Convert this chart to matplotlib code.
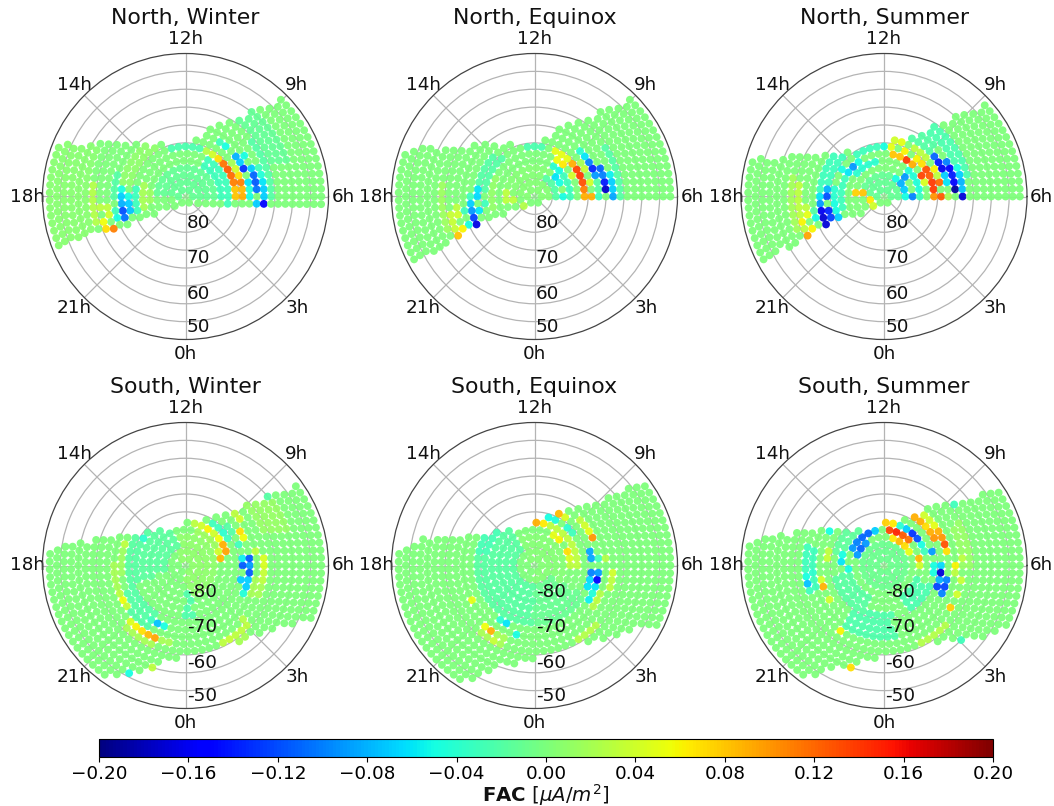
import numpy as np
import matplotlib
matplotlib.use("Agg")
import matplotlib.pyplot as plt
from matplotlib.path import Path

# ---------- grid of the statistics ----------
RING_COLAT = [2, 4, 6, 8, 10, 12, 14, 16, 18, 20, 22, 24, 26, 28, 30, 32, 34, 36, 38]
RING_COUNT = [6, 13, 19, 25, 31, 37, 44, 50, 56, 62, 67, 73, 79, 85, 90, 95, 101, 106, 111]

TITLES = ["North, Winter", "North, Equinox", "North, Summer",
          "South, Winter", "South, Equinox", "South, Summer"]
THETA_LABELS = ["6h", "9h", "12h", "14h", "18h", "21h", "0h", "3h"]
LAT_TICKS_N = ["80", "70", "60", "50"]
LAT_TICKS_S = ["-80", "-70", "-60", "-50"]
CBAR_TICKS = [-0.20, -0.16, -0.12, -0.08, -0.04, 0.00, 0.04, 0.08, 0.12, 0.16, 0.20]

# ---------- sampled areas (degrees from the pole, x to 6h, y to 12h) ----------
COVER_NW_X = [44, 40.0, 4.4, 3, -1.6, -7, -15, -36, -44, -44, -3, 0, 4]
COVER_NW_Y = [-2.4, 32.6, 17.8, 16.2, 15.2, 15.2, 15.2, 15.2, 15.2, -17, -3.5, -2.5, -2.5]
COVER_NE_X = [44, 39, 5.1, 2.8, -3.3, -14.4, -21.9, -33.5, -36.7, -44, -44, -34, -21, -12.6, -2.8, 3.3]
COVER_NE_Y = [-1.6, 33, 18, 16.5, 14.6, 14.6, 14.2, 13.4, 12.2, 11.5, -24, -18.9, -11, -5.8, -3.5, -1.6]
COVER_NS_X = [44, 38, 6.8, 2.6, -1, -7.6, -16, -23, -37, -44, -44, -35.1, -21.6, -14, -2.4, 0, 3.5, 22]
COVER_NS_Y = [-0.7, 30, 17, 16, 14.6, 12.8, 12.3, 12.3, 10.4, 9.5, -23, -18.9, -11.4, -7.2, -3.5, -2.2, -1.6, -0.7]
COVER_SW_X = [44, 38, 31, 19.8, 12.4, 4.9, 0.7, -6.2, -13.7, -20.2, -29.5, -37.9, -44, -44, -20.7, -15, -9, -7.2, -1.1, 4.9, 14.7, 19.8, 24.5, 32.4, 36.6, 44]
COVER_SW_Y = [26, 27, 22.3, 18.1, 15.7, 13.4, 12.5, 10.2, 9.2, 8.3, 6.4, 4.6, 3.5, -40, -31.7, -30.7, -28.9, -27.5, -26.1, -23.7, -21.4, -20, -18.2, -15.4, -14.4, -12]
COVER_SE_X = [44, 38, 31.3, 28.5, 17.3, 7, 1, -6.9, -13.4, -24.6, -31, -37.6, -44, -44, -20.8, -17.1, -11.5, -9.2, -5.5, -0.8, 5.7, 15.4, 21, 25.7, 34, 44]
COVER_SE_Y = [26, 26, 22.7, 22.7, 18.1, 14.8, 12.5, 10.2, 9.2, 8.8, 7.8, 4.6, 3.5, -40, -32.1, -32.1, -30.2, -28.4, -27.5, -26.1, -23.7, -21.9, -20.5, -18.6, -16.8, -14]
COVER_SS_X = [44, 38, 32.9, 29.7, 21.3, 15.7, 12, 8.3, 5, 0.4, -2.9, -10.3, -15, -22.4, -31.3, -37.3, -44, -44, -22.9, -18.7, -13.1, -9.4, -7.5, -2.9, 6.4, 14.8, 21.3, 27.8, 34.3, 44]
COVER_SS_Y = [22, 23, 21.3, 20.9, 18.5, 16.7, 16.2, 13.9, 13.4, 12.5, 10.2, 10.2, 10.2, 9.7, 7.8, 6.4, 5, -40, -30.7, -30.7, -29.3, -28.9, -27, -26.1, -23.3, -21.4, -20.9, -20, -16.8, -13]

# ---------- broad levels: (colat from, colat to, azimuth from, azimuth to, FAC) ----------
ZONES_NW = [(2, 8, 0, 180, -0.012), (10, 12, -10, 60, -0.03), (14, 14, 68, 110, -0.025),
            (24, 24, 0, 40, -0.02), (26, 30, 20, 60, -0.012), (14, 14, 170, 200, -0.03),
            (20, 20, 160, 185, -0.02), (26, 26, 170, 200, 0.025), (12, 12, 160, 195, 0.02),
            (10, 10, 170, 195, 0.015), (28, 38, 150, 210, 0.006), (16, 18, 120, 170, 0.008)]
ZONES_NE = [(2, 8, 0, 180, 0.004), (10, 10, 0, 50, -0.03), (6, 6, 0, 60, -0.02),
            (14, 14, 80, 105, -0.025), (14, 16, 130, 175, -0.02), (18, 18, 0, 15, -0.02),
            (24, 24, 0, 35, -0.02), (24, 24, 190, 203, 0.035), (26, 26, 170, 205, 0.015),
            (12, 12, 150, 200, 0.01)]
ZONES_NS = [(2, 6, 0, 180, -0.012), (10, 10, 100, 150, -0.04), (14, 14, 95, 130, -0.03),
            (10, 10, 20, 50, -0.045), (10, 10, -10, 10, -0.03), (14, 14, 165, 180, -0.04),
            (16, 16, 40, 60, 0.03), (24, 24, 170, 205, 0.03), (26, 26, 165, 205, 0.018),
            (22, 24, 10, 60, -0.025), (18, 20, 45, 70, -0.02), (16, 18, 130, 175, -0.03),
            (8, 8, 60, 70, -0.05), (6, 6, 0, 60, -0.05), (12, 12, 150, 200, -0.03)]
ZONES_SW = [(2, 8, -90, 120, 0.008), (10, 10, 30, 80, 0.015), (6, 14, -160, -80, -0.022),
            (14, 16, 120, 200, -0.018), (6, 12, 110, 200, -0.016), (14, 14, 30, 60, -0.03),
            (16, 16, 30, 50, -0.02), (20, 20, 175, 200, 0.02), (18, 18, 165, 190, 0.015),
            (24, 24, 225, 250, 0.02), (22, 22, 250, 262, 0.02), (24, 24, -65, -40, 0.03),
            (26, 26, -70, -50, 0.02), (20, 22, -25, -10, 0.02), (16, 20, 200, 240, -0.02),
            (24, 30, 20, 60, 0.012)]
ZONES_SE = [(2, 8, -90, 120, 0.004), (12, 12, 0, 70, 0.03), (6, 16, 120, 270, -0.018),
            (14, 16, 130, 170, -0.027), (6, 16, -90, -30, -0.01), (20, 20, -40, -20, 0.025),
            (24, 24, -60, -40, 0.025), (22, 24, 230, 250, 0.02)]
ZONES_SS = [(2, 6, 0, 360, -0.008), (14, 20, 235, 280, -0.022), (10, 14, 190, 250, -0.018),
            (12, 14, 120, 170, -0.015), (20, 22, 165, 200, -0.03), (24, 24, -65, -40, 0.025),
            (10, 14, -60, -20, -0.025), (22, 24, 0, 30, 0.012)]

# ---------- single bins: (colat, azimuth, FAC) ----------
SPOTS_NW = [(14, 0, .08), (14, 9, .08), (14, 17, .11), (14, 25, .12), (14, 34, .125), (14, 43, .115),
            (14, 52, .07), (14, 60, .04), (14, 67, .025), (16, -3, .09), (16, 4, .085), (16, 11, .11),
            (16, 19, .07), (16, 26, .04), (16, 35, .02), (18, 0, -.05), (18, 8, -.045), (18, 16, -.06),
            (18, 27, -.13), (18, 35, -.07), (18, 40, -.08), (18, 50, -.05), (18, 60, -.03),
            (20, -3, -.07), (20, 3, -.105), (20, 9, -.115), (20, 16, -.11), (20, 24, -.07), (20, 33, -.05),
            (22, -5, -.155), (22, 0, -.07), (22, 5, -.07), (22, 11, -.06), (22, 17, -.045), (22, 24, -.03),
            (18, 175, -.05), (18, 180, -.07), (18, 186, -.08), (18, 193, -.12), (18, 200, -.105),
            (16, 178, -.05), (16, 183, -.05), (16, 190, -.07), (16, 198, -.075),
            (20, 190, -.03), (20, 200, -.05), (22, 190, .03), (22, 195, .04), (22, 202, .11),
            (24, 185, .03), (24, 195, .055), (24, 202, .07)]
SPOTS_NE = [(14, 42, .09), (14, 33, .135), (14, 26, .14), (14, 18, .13), (14, 8, .11), (14, 0, .09),
            (16, -4, .12), (16, 3, .09), (16, 11, .08), (16, 18, .04), (16, 26, .035), (16, 35, .02),
            (12, -6, .07), (12, 34, .09), (12, 44, .065), (12, 56, .055), (14, 50, .05), (14, 60, .05),
            (14, 68, .05), (12, 25, .04), (8, 38, -.06), (10, 60, -.04), (8, 24, -.05), (10, 47, -.05),
            (8, 7, -.05), (20, -3, -.19), (20, 3, -.175), (20, 9, -.14), (20, 21, -.11), (20, 15, -.1),
            (18, 20, -.09), (18, 27, -.135), (18, 34, -.1), (18, 40, -.06), (18, 47, -.04), (22, 0, -.085),
            (22, 5, -.07), (22, 11, -.07), (22, 17, -.055), (18, 0, -.03), (18, 75, .02),
            (18, 180, -.03), (18, 186, -.07), (18, 193, -.09), (18, 200, -.125), (18, 207, -.165),
            (16, 176, -.06), (16, 183, -.065), (16, 191, -.07), (16, 198, -.06), (16, 206, -.07),
            (24, 207, .08), (22, 202, .06), (22, 195, .04), (22, 188, .03), (8, 175, .03), (8, 190, .03),
            (6, 185, .03), (6, 198, .03), (4, 215, .025), (14, 190, -.03), (20, 190, -.03), (20, 203, -.05)]
SPOTS_NS = [(12, 55, .14), (12, 46, .09), (12, 34, .135), (12, 24, .045), (14, 35, .13), (14, 26, .125),
            (14, 17, .14), (14, 8, .14), (14, 0, .1), (16, 11, .12), (16, 3, .125), (18, 0, .02),
            (16, 21, .03), (16, 30, .06), (14, 44, .07), (14, 52, .06), (14, 67, .06), (12, 75, .08),
            (12, 66, .08), (14, 78, .05), (16, 80, .04), (16, 71, .05), (22, 0, -.17), (20, 3, -.19),
            (20, 9, -.15), (20, 15, -.14), (20, 21, -.15), (20, 27, -.1), (18, 26, -.16), (18, 34, -.14),
            (18, 41, -.11), (18, 20, -.07), (18, 13, -.06), (22, 5, -.075), (22, 11, -.08), (22, 16, -.07),
            (22, 24, -.05), (8, 50, -.10), (8, 38, -.09), (6, 38, -.08), (6, 27, -.07), (8, 7, -.10),
            (10, 10, -.045), (6, 8, -.05), (12, 134, -.09), (12, 145, -.06), (14, 150, -.05),
            (12, 123, -.05), (14, 94, -.05), (8, 172, .075), (6, 180, .08), (4, 195, .065), (4, 225, .04),
            (16, 176, -.08), (16, 183, -.12), (16, 191, -.135), (16, 199, -.125), (16, 206, -.14),
            (18, 180, -.06), (18, 187, -.09), (18, 193, -.16), (18, 200, -.17), (18, 207, -.17),
            (14, 187, -.05), (14, 197, -.05), (14, 207, -.07), (20, 207, -.085), (20, 200, -.05),
            (20, 193, -.02), (24, 207, .095), (22, 207, .05), (22, 202, .06), (24, 197, .06),
            (22, 194, .05), (22, 188, .03)]
SPOTS_SW = [(10, 11, .085), (12, 16, .095), (12, 25, .09), (12, 35, .055), (12, 44, .04), (12, 54, .06),
            (12, 66, .04), (12, 75, .03), (10, 22, .04), (18, 32, .07), (18, 27, .055), (20, 40, .04),
            (22, 5, .045), (22, 0, .045), (22, -6, .035), (22, -11, .03), (20, 11, .03),
            (18, 7, -.115), (16, 4, -.08), (18, 0, -.09), (16, -3, -.115), (18, -6, -.115), (16, -11, -.07),
            (18, -13, -.07), (18, -20, -.07), (16, 10, -.055), (18, -25, -.045), (16, 20, -.03),
            (14, 42, -.04), (18, 247, -.075), (18, 253, -.05), (18, 240, -.03), (14, 150, -.04),
            (22, 245, .095), (22, 240, .085), (22, 234, .07), (22, 229, .06), (22, 223, .045),
            (20, 209, .055), (20, 215, .035), (20, 201, .03), (18, 160, .03), (30, 252, .03),
            (34, 244, -.05), (30, 40, -.02), (20, 50, .02), (20, 44, .03), (24, -60, .035), (24, -54, .03),
            (22, -45, .025)]
SPOTS_SE = [(12, 85, .09), (12, 75, .065), (16, 64, .085), (16, 56, .045), (18, 27, .1), (18, 33, .05),
            (18, 40, .04), (18, 47, .03), (10, 59, .05), (10, 45, .06), (10, 24, .07), (10, 11, .045),
            (10, 0, .03), (14, 70, -.05), (14, 62, -.045), (14, 50, -.04), (14, 40, -.03),
            (18, -13, -.15), (18, -7, -.09), (16, -4, -.1), (16, 4, -.085), (16, 11, -.085), (18, 6, -.03),
            (16, -11, -.065), (18, -19, -.06), (18, -33, -.055), (18, -24, -.045), (16, -18, -.06),
            (22, -4, .04), (22, -10, .03), (22, -16, .03), (20, 7, .025), (20, -30, .03),
            (22, 235, .09), (22, 229, .055), (20, 207, .05), (24, 243, .035), (18, 247, -.06),
            (20, 255, -.05), (18, 240, -.04)]
SPOTS_SS = [(10, 84, .135), (10, 72, .15), (10, 60, .125), (10, 48, .115), (8, 53, .085), (8, 68, .065),
            (8, 37, .07), (8, 24, .05), (10, 12, .085), (10, 0, .04), (12, 85, .075), (12, 75, .065),
            (12, 46, -.13), (12, 36, -.12), (12, 55, -.07), (12, 65, -.04), (12, 26, -.05), (14, 17, -.09),
            (12, 17, -.03), (16, 57, .09), (16, 49, .09), (16, 41, .07), (16, 34, .09), (16, 27, .1),
            (18, 27, .1), (18, 20, .13), (18, 33, .09), (18, 14, .07), (18, 40, .05), (18, 48, .04),
            (18, 54, .04), (16, -4, -.17), (16, -11, -.08), (18, -13, -.1), (16, -19, -.125),
            (18, -20, -.125), (18, -27, -.1), (14, -8, -.05), (16, 3, -.065), (14, 0, -.05),
            (10, 144, -.1), (10, 132, -.11), (10, 119, -.11), (10, 108, -.07), (10, 156, -.09),
            (8, 155, -.09), (8, 142, -.11), (8, 127, -.09), (12, 180, -.06), (12, 170, -.05), (10, 190, -.05),
            (22, 196, -.075), (22, 190, -.05), (20, 187, -.04), (18, 200, .09), (18, 190, .04),
            (16, 175, .035), (16, 167, .03), (18, 210, .04), (22, 234, .06), (30, 252, .07),
            (22, -33, .075), (22, -22, .04), (22, -11, .035), (20, 0, .06), (22, 5, .03), (20, -7, .03),
            (18, 148, -.05), (18, 142, -.05), (30, -45, -.03), (26, 40, -.03)]

COVERS = [(COVER_NW_X, COVER_NW_Y), (COVER_NE_X, COVER_NE_Y), (COVER_NS_X, COVER_NS_Y),
          (COVER_SW_X, COVER_SW_Y), (COVER_SE_X, COVER_SE_Y), (COVER_SS_X, COVER_SS_Y)]
ZONES = [ZONES_NW, ZONES_NE, ZONES_NS, ZONES_SW, ZONES_SE, ZONES_SS]
SPOTS = [SPOTS_NW, SPOTS_NE, SPOTS_NS, SPOTS_SW, SPOTS_SE, SPOTS_SS]

# ---------- layout in reference pixels ----------
W, H = 1054, 806
CENTERS = [(185.5, 196.5), (534.5, 196.5), (884, 196.5), (185.5, 565.5), (534.5, 565.5), (884, 565.5)]
R_PX = 143

plt.rcParams["font.family"] = "DejaVu Sans"
fig = plt.figure(figsize=(W / 100, H / 100), dpi=100)
cmap = plt.get_cmap("jet")
norm = matplotlib.colors.Normalize(-0.2, 0.2)


def panel_values(cover, zones, spots):
    """Bins inside the sampled area, with the levels read for them."""
    poly = Path(np.column_stack(cover))
    rows = []
    for c, n in zip(RING_COLAT, RING_COUNT):
        az = np.arange(n) * 360.0 / n
        az_wrapped = (az + 90) % 360 - 90
        val = np.zeros(n)
        for c0, c1, a0, a1, v in zones:
            if c0 <= c <= c1:
                a = az_wrapped if a0 < 0 else (az if a1 > 270 else az_wrapped)
                mask = (a >= a0) & (a <= a1)
                val[mask] = v
        for cs, a, v in spots:
            if cs == c:
                d = np.abs((az - a + 180) % 360 - 180)
                val[np.argmin(d)] = v
        xy = np.column_stack([c * np.cos(np.radians(az)), c * np.sin(np.radians(az))])
        keep = poly.contains_points(xy)
        rows.append((np.radians(az[keep]), np.full(keep.sum(), c), val[keep]))
    return [np.concatenate(p) for p in zip(*rows)]


for i, (cx, cy) in enumerate(CENTERS):
    ax = fig.add_axes([(cx - R_PX) / W, 1 - (cy + R_PX) / H, 2 * R_PX / W, 2 * R_PX / H], polar=True)
    th, r, v = panel_values(COVERS[i], ZONES[i], SPOTS[i])
    ax.scatter(th, r, c=v, cmap=cmap, norm=norm, s=32, linewidths=0, alpha=0.94, zorder=3)
    # centre bin
    ax.scatter([0], [0], c=[0.0], cmap=cmap, norm=norm, s=32, linewidths=0, alpha=0.5, zorder=3)
    ax.set_ylim(0, 40)
    ax.set_yticks([5, 10, 15, 20, 25, 30, 35])
    ax.set_yticklabels([])
    ax.set_xticks(np.radians(np.arange(0, 360, 45)))
    ax.set_xticklabels(THETA_LABELS, fontsize=13.2, color="#111111")
    ax.tick_params(axis="x", pad=0)
    ax.grid(True, color="#b4b4b4", lw=0.9)
    ax.spines["polar"].set_color("#444444")
    ax.spines["polar"].set_linewidth(0.9)
    ax.set_title(TITLES[i], fontsize=15.8, pad=21.5, y=1.0, color="#111111")
    labs = LAT_TICKS_N if i < 3 else LAT_TICKS_S
    for lab, rr in zip(labs, [10, 20, 30, 40]):
        ax.annotate(lab, xy=(np.radians(270), rr), xytext=(1.0, 0.5 if rr < 40 else 2.5),
                    textcoords="offset points", ha="left", va="bottom", fontsize=13.2,
                    annotation_clip=False, zorder=5, color="#111111")

cax = fig.add_axes([99 / W, 1 - 757 / H, (993 - 99) / W, 18 / H])
sm = plt.cm.ScalarMappable(norm=norm, cmap=cmap)
cb = fig.colorbar(sm, cax=cax, orientation="horizontal", ticks=CBAR_TICKS)
cb.ax.tick_params(labelsize=13.2, length=3.5, pad=2.5)
cb.ax.set_xticklabels(["\u2212%.2f" % abs(t) if t < 0 else "%.2f" % t for t in CBAR_TICKS])
fig.text(546 / W, 1 - 795 / H, r"$\bf{FAC}$ [$\mu A/m^2$]", fontsize=14.2, ha="center", va="center", color="#111111")

fig.savefig("out.png", dpi=100)
